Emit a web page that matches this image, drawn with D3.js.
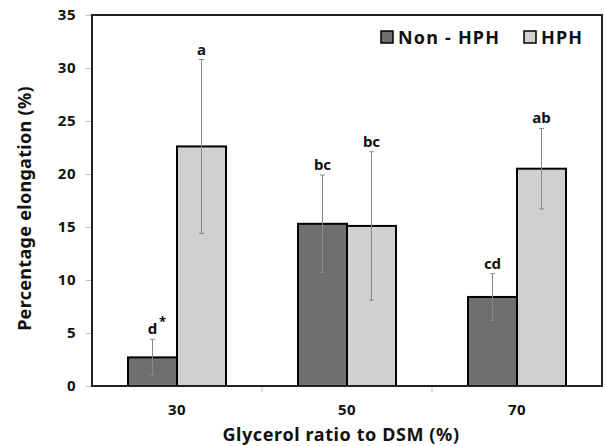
<!DOCTYPE html>
<html lang="en">
<head>
<meta charset="utf-8">
<title>Percentage elongation</title>
<script src="https://d3js.org/d3.v7.min.js"></script>
<style>
  body { margin: 0; background: #fff; }
  svg text { font-family: "Noto Sans", "Open Sans", sans-serif; font-weight: bold; fill: #111; }
</style>
</head>
<body>
<div id="chart"></div>
<script>
// data
var categories = ["30", "50", "70"];
var seriesNames = ["Non - HPH", "HPH"];
var nonHph = [2.7, 15.3, 8.4];
var nonHphErr = [1.7, 4.6, 2.2];
var hph = [22.6, 15.1, 20.5];
var hphErr = [8.2, 7.0, 3.8];
var nonHphLetters = ["d", "bc", "cd"];
var hphLetters = ["a", "bc", "ab"];
var yTicks = [0, 5, 10, 15, 20, 25, 30, 35];

var W = 605, H = 446;
var margin = {top: 15, right: 3, bottom: 60, left: 92};
var width = W - margin.left - margin.right,
    height = H - margin.top - margin.bottom;

var svg = d3.select("#chart").append("svg")
  .attr("width", W).attr("height", H);

var main = svg.append("g")
  .attr("transform", "translate(" + margin.left + "," + margin.top + ")");

var x = d3.scaleBand().domain(categories).range([0, width]);
var x1 = d3.scaleBand().domain(seriesNames).range([0, 98]);
var y = d3.scaleLinear().domain([0, 35]).range([height, 0]);
var colors = {"Non - HPH": "#6f6f6f", "HPH": "#d0d0d0"};

var rows = categories.map(function(c, i) {
  return [
    {cat: c, s: "Non - HPH", v: nonHph[i], e: nonHphErr[i], l: nonHphLetters[i]},
    {cat: c, s: "HPH", v: hph[i], e: hphErr[i], l: hphLetters[i]}
  ];
});
var flat = [].concat.apply([], rows);
function bx(d) { return x(d.cat) + x.bandwidth() / 2 - 49 + x1(d.s); }

// y axis
var yAxis = d3.axisLeft(y).tickValues(yTicks).tickSize(6).tickPadding(10);
var ga = main.append("g").call(yAxis);
ga.select(".domain").remove();
ga.selectAll("line").attr("stroke", "#bbb");
ga.selectAll("text").style("font-size", "15px").style("letter-spacing", "0.5px");

// x axis
var xAxis = d3.axisBottom(x).tickSize(0).tickPadding(18);
var gx = main.append("g").attr("transform", "translate(0," + height + ")").call(xAxis);
gx.select(".domain").remove();
gx.selectAll("text").style("font-size", "15px").style("letter-spacing", "0.5px");
// group separator ticks
gx.selectAll(".sep").data(categories.slice(1)).enter().append("line")
  .attr("x1", function(d) { return x(d); }).attr("x2", function(d) { return x(d); })
  .attr("y1", 0).attr("y2", 6).attr("stroke", "#bbb");

// bars
main.selectAll(".bar").data(flat).enter().append("rect")
  .attr("x", bx)
  .attr("y", function(d) { return y(d.v); })
  .attr("width", x1.bandwidth())
  .attr("height", function(d) { return height - y(d.v); })
  .attr("fill", function(d) { return colors[d.s]; })
  .attr("stroke", "#000").attr("stroke-width", 2);

// error bars
var eb = main.selectAll(".err").data(flat).enter().append("g")
  .attr("stroke", "#888").attr("stroke-width", 1);
eb.append("line")
  .attr("x1", function(d) { return bx(d) + x1.bandwidth() / 2; })
  .attr("x2", function(d) { return bx(d) + x1.bandwidth() / 2; })
  .attr("y1", function(d) { return y(d.v + d.e); })
  .attr("y2", function(d) { return y(d.v - d.e); });
[1, -1].forEach(function(sg) {
  eb.append("line")
    .attr("x1", function(d) { return bx(d) + x1.bandwidth() / 2 - 2.5; })
    .attr("x2", function(d) { return bx(d) + x1.bandwidth() / 2 + 2.5; })
    .attr("y1", function(d) { return y(d.v + sg * d.e); })
    .attr("y2", function(d) { return y(d.v + sg * d.e); });
});

// significance letters
main.selectAll(".lt").data(flat).enter().append("text")
  .attr("x", function(d) { return bx(d) + x1.bandwidth() / 2; })
  .attr("y", function(d) { return y(d.v + d.e) - 5; })
  .attr("text-anchor", "middle")
  .style("font-size", "15px")
  .text(function(d) { return d.l; });
main.append("text")
  .attr("x", bx(flat[0]) + x1.bandwidth() / 2 + 10)
  .attr("y", y(flat[0].v + flat[0].e) - 13)
  .attr("text-anchor", "middle")
  .style("font-size", "13px")
  .text("*");

// frame
main.append("rect").attr("width", width).attr("height", height)
  .attr("fill", "none").attr("stroke", "#222").attr("stroke-width", 2);

// legend
var legend = main.append("g").attr("transform", "translate(289,16)");
var lx = [0, 143];
seriesNames.forEach(function(s, i) {
  legend.append("rect").attr("x", lx[i]).attr("y", 0).attr("width", 12).attr("height", 12)
    .attr("fill", colors[s]).attr("stroke", "#000").attr("stroke-width", 1.5);
  legend.append("text").attr("x", lx[i] + 17).attr("y", 12.5)
    .style("font-size", "18px").style("letter-spacing", "1.2px").text(s);
});

// axis titles
svg.append("text")
  .attr("transform", "translate(31," + (margin.top + height / 2 + 8) + ") rotate(-90)")
  .attr("text-anchor", "middle").style("font-size", "18px").style("letter-spacing", "0.3px")
  .text("Percentage elongation (%)");
svg.append("text")
  .attr("x", 341).attr("y", 441)
  .attr("text-anchor", "middle").style("font-size", "18px").style("letter-spacing", "0.6px")
  .text("Glycerol ratio to DSM (%)");
</script>
</body>
</html>
